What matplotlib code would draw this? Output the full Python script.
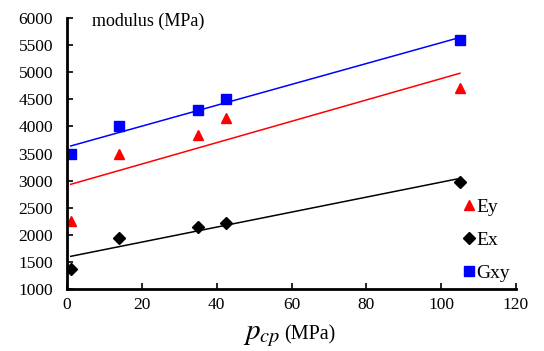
import numpy as np
import matplotlib
matplotlib.use("Agg")
import matplotlib.pyplot as plt

plt.rcParams['font.family'] = ['Liberation Serif', 'DejaVu Serif']
plt.rcParams['mathtext.fontset'] = 'stix'

pcp = [1, 14, 35, 42.5, 105]
Ey = [2250, 3500, 3850, 4150, 4700]
Ex = [1375, 1950, 2150, 2225, 2975]
Gxy = [3500, 4000, 4300, 4500, 5600]
xticks = [0, 20, 40, 60, 80, 100, 120]
yticks = [1000, 1500, 2000, 2500, 3000, 3500, 4000, 4500, 5000, 5500, 6000]

W, H = 544, 351
fig = plt.figure(figsize=(W / 100, H / 100), dpi=100)
ax = fig.add_axes([67 / W, 1 - 289 / H, (516 - 67) / W, (289 - 18) / H])

x = np.array(pcp)
xl = np.array([min(pcp), max(pcp)])
for ys, color in [(Ey, 'red'), (Ex, 'black'), (Gxy, 'blue')]:
    k, b = np.polyfit(x, np.array(ys), 1)
    ax.plot(xl, k * xl + b, color=color, lw=1.1)

ax.plot(pcp, Ey, '^', color='red', ms=7.5, ls='none', label='Ey')
ax.plot(pcp, Ex, 'D', color='black', ms=6, ls='none', label='Ex')
ax.plot(pcp, Gxy, 's', color='blue', ms=7, ls='none', label='Gxy')

ax.set_xlim(0, 120)
ax.set_ylim(1000, 6000)
ax.set_xticks(xticks)
ax.set_yticks(yticks)
ax.tick_params(direction='in', length=4, width=1.2, labelsize=12.5)
ax.tick_params(axis='y', pad=10)
ax.tick_params(axis='x', pad=6)
for s in ['top', 'right']:
    ax.spines[s].set_visible(False)
for s in ['left', 'bottom']:
    ax.spines[s].set_linewidth(2)

ax.text(25 / 449, (289 - 21) / 271, 'modulus (MPa)', transform=ax.transAxes,
        fontsize=13, va='center', ha='left')

fig.text(281 / W, (H - 339) / H, r'$p_{cp}$', fontsize=21, ha='right', va='baseline')
fig.text(284 / W, (H - 339) / H, '(MPa)', fontsize=14.5, ha='left', va='baseline')

leg = ax.legend(loc='upper left', bbox_to_anchor=(0.86, 0.37), frameon=False,
                fontsize=14, handlelength=0.6, handletextpad=0.1,
                labelspacing=0.78, borderpad=0)

fig.savefig('out.png', dpi=100)
